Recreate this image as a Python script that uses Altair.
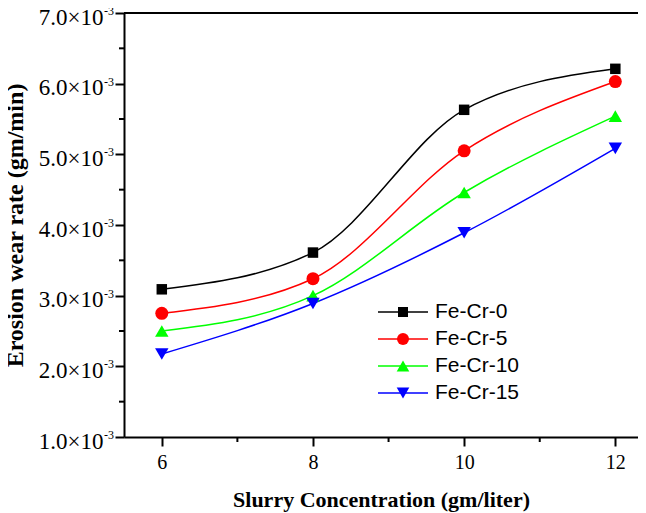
import altair as alt
import pandas as pd

# ---- data ----
conc = [6, 8, 10, 12]
series_names = ["Fe-Cr-0", "Fe-Cr-5", "Fe-Cr-10", "Fe-Cr-15"]
wear_fecr0 = [3.09e-3, 3.61e-3, 5.63e-3, 6.21e-3]
wear_fecr5 = [2.75e-3, 3.24e-3, 5.05e-3, 6.03e-3]
wear_fecr10 = [2.50e-3, 3.00e-3, 4.46e-3, 5.54e-3]
wear_fecr15 = [2.175e-3, 2.89e-3, 3.89e-3, 5.085e-3]
series_colors = ["#000000", "#ff0000", "#00ff00", "#0000ff"]
series_shapes = ["square", "circle", "triangle-up", "triangle-down"]
series_sizes = [110, 169, 180, 180]
x_major = [6, 8, 10, 12]
x_minor = [7, 9, 11]
y_major = [1e-3, 2e-3, 3e-3, 4e-3, 5e-3, 6e-3, 7e-3]
y_minor = [1.5e-3, 2.5e-3, 3.5e-3, 4.5e-3, 5.5e-3, 6.5e-3]
y_exponent = ["-3"] * len(y_major)

all_wear = [wear_fecr0, wear_fecr5, wear_fecr10, wear_fecr15]
rows = []
for name, vals, c, s, z in zip(series_names, all_wear, series_colors, series_shapes, series_sizes):
    for xv, yv in zip(conc, vals):
        rows.append({"series": name, "x": xv, "y": yv, "clr": c, "shp": s, "sz": z})
df = pd.DataFrame(rows)
leg_df = pd.DataFrame({"series": series_names, "clr": series_colors,
                       "shp": series_shapes, "sz": [100, 144, 160, 160]})

W, H = 514, 424
SERIF = "Liberation Serif"
SANS = "Liberation Sans"

xscale = alt.Scale(domain=[5.5, 12.3], nice=False, zero=False)
yscale = alt.Scale(domain=[1e-3, 7e-3], nice=False, zero=False)

x_enc = alt.X("x:Q", scale=xscale, axis=alt.Axis(
    values=x_major, format="d", title="Slurry Concentration (gm/liter)",
    labelFont=SERIF, labelFontSize=20, labelPadding=6, tickSize=9,
    titleFont=SERIF, titleFontSize=22, titleFontWeight="bold", titlePadding=17))
y_enc = alt.Y("y:Q", scale=yscale, axis=alt.Axis(
    values=y_major, labelExpr="format(datum.value*1000, '.1f') + '×10'",
    title="Erosion wear rate (gm/min)",
    labelFont=SERIF, labelFontSize=23, labelPadding=12, labelOffset=4, tickSize=9,
    titleFont=SERIF, titleFontSize=24, titleFontWeight="bold", titlePadding=11))

lines = alt.Chart(df).mark_line(interpolate="monotone", strokeWidth=1.5).encode(
    x=x_enc, y=y_enc,
    color=alt.Color("clr:N", scale=None),
    detail="series:N")

points = alt.Chart(df).mark_point(filled=True, opacity=1).encode(
    x=alt.X("x:Q", scale=xscale), y=alt.Y("y:Q", scale=yscale),
    color=alt.Color("clr:N", scale=None),
    shape=alt.Shape("shp:N", scale=None),
    size=alt.Size("sz:Q", scale=None))

minor_x = alt.Chart(pd.DataFrame({"x": x_minor})).mark_rule(strokeWidth=2, color="black").encode(
    x=alt.X("x:Q", scale=xscale), y=alt.value(H), y2=alt.value(H + 5))

minor_y = alt.Chart(pd.DataFrame({"y": y_minor})).mark_rule(strokeWidth=2, color="black").encode(
    y=alt.Y("y:Q", scale=yscale), x=alt.value(-5), x2=alt.value(0))

sup = alt.Chart(pd.DataFrame({"y": y_major, "e": y_exponent})).mark_text(
    align="left", baseline="middle", dy=-2, font=SERIF, fontSize=12, color="black").encode(
    y=alt.Y("y:Q", scale=yscale), x=alt.value(-20), text="e:N")

top_rule = alt.Chart(pd.DataFrame({"a": [0]})).mark_rule(strokeWidth=2, color="black").encode(
    x=alt.value(0), x2=alt.value(W), y=alt.value(0))

main = alt.layer(lines, points, minor_x, minor_y, sup, top_rule)

leg_y = alt.Y("series:N", scale=alt.Scale(type="point", domain=series_names,
                                          range=[299, 380], padding=0), axis=None)
leg_rules = alt.Chart(leg_df).mark_rule(strokeWidth=1.5).encode(
    x=alt.value(254), x2=alt.value(304), y=leg_y, color=alt.Color("clr:N", scale=None))
leg_pts = alt.Chart(leg_df).mark_point(filled=True, opacity=1).encode(
    x=alt.value(279), y=leg_y, color=alt.Color("clr:N", scale=None),
    shape=alt.Shape("shp:N", scale=None), size=alt.Size("sz:Q", scale=None))
leg_txt = alt.Chart(leg_df).mark_text(align="left", baseline="middle", font=SANS,
                                      fontSize=21, color="black").encode(
    x=alt.value(311), y=leg_y, text="series:N")
legend = alt.layer(leg_rules, leg_pts, leg_txt)

chart = alt.layer(main, legend).resolve_scale(y="independent").properties(
    width=W, height=H,
    padding={"left": 116, "top": 5, "right": 0, "bottom": 76},
    autosize=alt.AutoSizeParams(type="none"),
    background="white",
).configure_view(stroke=None).configure_axis(
    grid=False, domainColor="black", domainWidth=2, tickColor="black", tickWidth=2,
    labelColor="black", titleColor="black")

chart.save("out.html", embed_options={"renderer": "svg", "actions": False})
